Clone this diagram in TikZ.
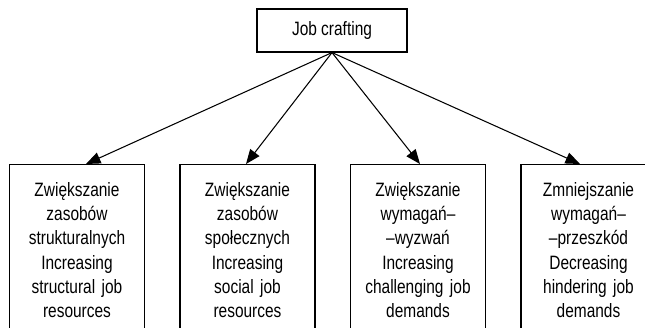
\documentclass[tikz,border=0pt]{standalone}
\usepackage{fontspec}
\setmainfont{Liberation Sans}[FakeStretch=0.8]
\usetikzlibrary{arrows.meta,calc,positioning}

\begin{document}
\begin{tikzpicture}[
  >={Triangle[length=2.9mm,width=2.3mm]},
  cadre/.style={draw,line width=0.65pt,inner sep=0pt},
  boite/.style={cadre,minimum width=2.7cm,minimum height=4.4cm,anchor=north},
  texte/.style={text width=2.7cm,align=center,inner sep=0pt,
    font=\fontsize{11}{13.8}\selectfont},
  fl/.style={->,line width=0.6pt},
]
  % Cadre de l'image
  \useasboundingbox (0,0) rectangle (12.9,-6.54);
  \clip (0,0) rectangle (12.9,-6.54);

  % Noeud du haut
  \node[cadre,minimum width=3cm,minimum height=0.86cm,
    font=\fontsize{11}{13.8}\selectfont] (jc) at (6.64,-0.61) {Job crafting};

  % Boites du bas (ouvertes en bas)
  \node[boite] (b1) at (1.54,-3.28)  {};
  \node[boite] (b2) at (4.95,-3.28)  {};
  \node[boite] (b3) at (8.36,-3.28)  {};
  \node[boite] (b4) at (11.77,-3.28) {};

  % Textes
  \node[texte,below=0.36cm of b1.north] (t1)
    {Zwiększanie\\zasobów\\strukturalnych\\Increasing\\structural job\\resources};
  \node[texte,below=0.36cm of b2.north] (t2)
    {Zwiększanie\\zasobów\\społecznych\\Increasing\\social job\\resources};
  \node[texte,below=0.36cm of b3.north] (t3)
    {Zwiększanie\\wymagań–\\–wyzwań\\Increasing\\challenging job\\demands};
  \node[texte,below=0.36cm of b4.north] (t4)
    {Zmniejszanie\\wymagań–\\–przeszkód\\Decreasing\\hindering job\\demands};

  % Fleches
  \draw[fl] (jc.south) -- ([xshift=0.18cm]b1.north);
  \draw[fl] (jc.south) -- ([xshift=-0.03cm]b2.north);
  \draw[fl] (jc.south) -- ([xshift=0.04cm]b3.north);
  \draw[fl] (jc.south) -- ([xshift=-0.17cm]b4.north);
\end{tikzpicture}
\end{document}
